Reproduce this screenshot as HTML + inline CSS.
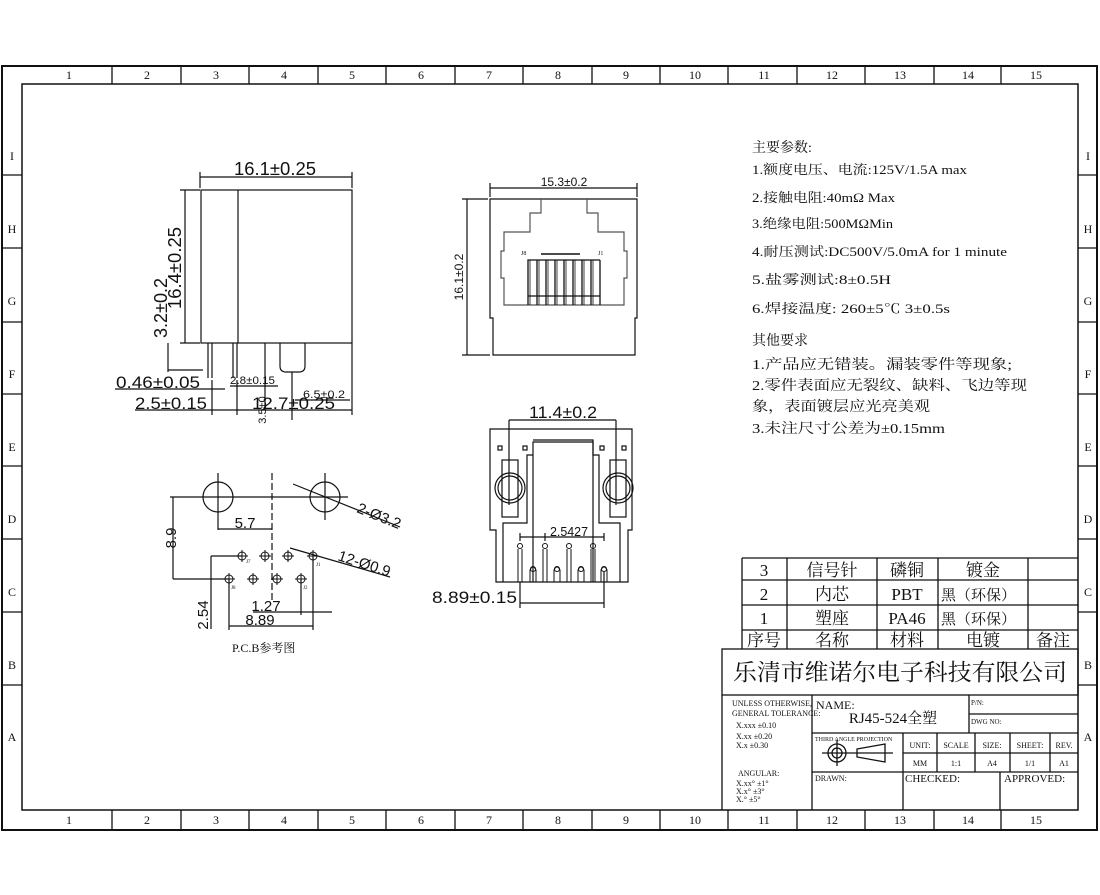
<!DOCTYPE html>
<html><head><meta charset="utf-8"><style>
html,body{margin:0;padding:0;background:#fff;}
svg{display:block;}
text{font-family:"Liberation Serif","Noto Serif CJK SC",serif;fill:#111;}
.s text{font-family:"Liberation Sans","Noto Sans CJK SC",sans-serif;}
</style></head><body>
<svg width="1100" height="895" viewBox="0 0 1100 895" xmlns="http://www.w3.org/2000/svg">
<g fill="none" stroke="#111" stroke-width="1">
<rect x="2" y="66" width="1095" height="764" stroke-width="2"/>
<rect x="22" y="84" width="1056" height="726" stroke-width="1.5"/>
<g stroke-width="1.3">
<path d="M112 66V84M181 66V84M249 66V84M318 66V84M386 66V84M455 66V84M523 66V84M592 66V84M660 66V84M728 66V84M797 66V84M865 66V84M934 66V84M1001 66V84"/>
<path d="M112 810V830M181 810V830M249 810V830M318 810V830M386 810V830M455 810V830M523 810V830M592 810V830M660 810V830M728 810V830M797 810V830M865 810V830M934 810V830M1001 810V830"/>
<path d="M2 175H22M2 248H22M2 322H22M2 394H22M2 466H22M2 539H22M2 612H22M2 685H22"/>
<path d="M1078 175H1097M1078 248H1097M1078 322H1097M1078 394H1097M1078 466H1097M1078 539H1097M1078 612H1097M1078 685H1097"/>
</g>
</g>
<g font-size="12" text-anchor="middle">
<text x="69" y="79">1</text><text x="147" y="79">2</text><text x="216" y="79">3</text><text x="284" y="79">4</text><text x="352" y="79">5</text><text x="421" y="79">6</text><text x="489" y="79">7</text><text x="558" y="79">8</text><text x="626" y="79">9</text><text x="695" y="79">10</text><text x="764" y="79">11</text><text x="832" y="79">12</text><text x="900" y="79">13</text><text x="968" y="79">14</text><text x="1036" y="79">15</text>
<text x="69" y="824">1</text><text x="147" y="824">2</text><text x="216" y="824">3</text><text x="284" y="824">4</text><text x="352" y="824">5</text><text x="421" y="824">6</text><text x="489" y="824">7</text><text x="558" y="824">8</text><text x="626" y="824">9</text><text x="695" y="824">10</text><text x="764" y="824">11</text><text x="832" y="824">12</text><text x="900" y="824">13</text><text x="968" y="824">14</text><text x="1036" y="824">15</text>
<text x="12" y="160">I</text><text x="12" y="233">H</text><text x="12" y="305">G</text><text x="12" y="378">F</text><text x="12" y="451">E</text><text x="12" y="523">D</text><text x="12" y="596">C</text><text x="12" y="669">B</text><text x="12" y="741">A</text>
<text x="1088" y="160">I</text><text x="1088" y="233">H</text><text x="1088" y="305">G</text><text x="1088" y="378">F</text><text x="1088" y="451">E</text><text x="1088" y="523">D</text><text x="1088" y="596">C</text><text x="1088" y="669">B</text><text x="1088" y="741">A</text>
</g>

<!-- side view -->
<g fill="none" stroke="#111" stroke-width="1.2">
<rect x="201" y="190" width="151" height="153"/>
<path d="M238 190V343"/>
<path d="M200 188V172M352 188V172M200 177H352"/>
<path d="M185 190V343M180 190H200M180 343H200"/>
<path d="M168 343V372M168 370H203"/>
<path d="M208 343V378M212 343V378M233 343V378M237 343V378"/>
<path d="M265 343V410M280 343V366Q280 372 286 372H299Q305 372 305 366V343"/>
<path d="M230 386H278M292 372V420M295 400H350"/>
<path d="M115 389H225M135 410H352M212 380V415M352 343V415M237 380V415"/>
</g>
<g class="s" fill="#111">
<text x="275" y="175" font-size="18" text-anchor="middle" textLength="82" lengthAdjust="spacingAndGlyphs">16.1±0.25</text>
<text transform="translate(181,268) rotate(-90)" font-size="18" text-anchor="middle" textLength="82" lengthAdjust="spacingAndGlyphs">16.4±0.25</text>
<text transform="translate(167,308) rotate(-90)" font-size="18" text-anchor="middle" textLength="60" lengthAdjust="spacingAndGlyphs">3.2±0.2</text>
<text x="116" y="388" font-size="17" textLength="84" lengthAdjust="spacingAndGlyphs">0.46±0.05</text>
<text x="135" y="409" font-size="17" textLength="72" lengthAdjust="spacingAndGlyphs">2.5±0.15</text>
<text x="252" y="409" font-size="17" textLength="83" lengthAdjust="spacingAndGlyphs">12.7±0.25</text>
<text x="230" y="384" font-size="11" textLength="45" lengthAdjust="spacingAndGlyphs">2.8±0.15</text>
<text x="303" y="398" font-size="11" textLength="42" lengthAdjust="spacingAndGlyphs">6.5±0.2</text>
<text transform="translate(266,410) rotate(-90)" font-size="11" text-anchor="middle">3.5±0</text>
</g>

<!-- front view -->
<g fill="none" stroke="#111" stroke-width="1.2">
<path d="M490 199H637V318H635V355H493V318H490Z"/>
<path d="M490 197V183M637 197V183M490 188H637"/>
<path d="M467 199V355M462 199H488M462 355H490"/>
<path d="M541 199V213H530V232H504V251H501V278H504V305H624V278H627V251H624V232H598V213H587V199" stroke="#555"/>
<path d="M541 254H580" stroke-width="1.5"/>
<path d="M528 305V260H537V305M537 305V260M546 305V260M555 305V260M564 305V260M573 305V260M582 305V260M591 305V260M600 305V260M528 260H600M528 296H600" stroke-width="1.3"/>
<path d="M530 260V305M539 260V305M548 260V305M557 260V305M566 260V305M575 260V305M584 260V305M593 260V305" stroke-width="0.8"/>
</g>
<g class="s" fill="#111">
<text x="564" y="186" font-size="12" text-anchor="middle">15.3±0.2</text>
<text transform="translate(463,277) rotate(-90)" font-size="12" text-anchor="middle">16.1±0.2</text>
</g>
<text x="521" y="255" font-size="6">J8</text><text x="598" y="255" font-size="6">J1</text>

<!-- bottom view -->
<g fill="none" stroke="#111" stroke-width="1.2">
<path d="M490 429H632V530H628V582H496V530H490Z"/>
<path d="M533 582V442H593V582"/>
<path d="M533 440H593V455H599V523H620V530M533 455H527V523H503V530"/>
<path d="M503 530V582M620 530V582"/>
<rect x="498" y="446" width="4" height="4"/><rect x="523" y="446" width="4" height="4"/><rect x="600" y="446" width="4" height="4"/><rect x="622" y="446" width="4" height="4"/>
<rect x="502" y="460" width="16" height="57"/><rect x="610" y="460" width="16" height="57"/>
<circle cx="510" cy="488" r="15"/><circle cx="510" cy="488" r="12"/>
<circle cx="618" cy="488" r="15"/><circle cx="618" cy="488" r="12"/>
<path d="M509 420V505M616 420V505M509 420H616"/>
<path d="M520 537H604M520 533V541M545 533V541M604 533V541"/>
<g stroke-width="1">
<circle cx="520" cy="546" r="2.5"/><circle cx="545" cy="546" r="2.5"/><circle cx="569" cy="546" r="2.5"/><circle cx="593" cy="546" r="2.5"/>
<circle cx="533" cy="569" r="2.5"/><circle cx="557" cy="569" r="2.5"/><circle cx="581" cy="569" r="2.5"/><circle cx="604" cy="569" r="2.5"/>
<path d="M518 549V582M522 549V582M543 549V582M547 549V582M567 549V582M571 549V582M591 549V582M595 549V582"/>
<path d="M530 582V570Q533 564 536 570V582M554 582V570Q557 564 560 570V582M578 582V570Q581 564 584 570V582M601 582V570Q604 564 607 570V582"/>
</g>
<path d="M520 582V608M604 572V608M520 603H604"/>
</g>
<g class="s" fill="#111">
<text x="563" y="418" font-size="17" text-anchor="middle" textLength="68" lengthAdjust="spacingAndGlyphs">11.4±0.2</text>
<text x="432" y="603" font-size="17" textLength="85" lengthAdjust="spacingAndGlyphs">8.89±0.15</text>
<text x="550" y="536" font-size="13" textLength="38" lengthAdjust="spacingAndGlyphs">2.5427</text>
</g>

<!-- PCB -->
<g fill="none" stroke="#111" stroke-width="1.2">
<circle cx="218" cy="497" r="15"/><circle cx="325" cy="497" r="15"/>
<path d="M170 497H348M218 473V530M325 473V520"/>
<path d="M272 473V600" stroke-dasharray="7,3"/>
<path d="M218 529H272"/>
<path d="M173 497V579M173 579H229"/>
<path d="M211 556V629M211 556H242"/>
<path d="M229 579V630M313 556V630M301 579V615M229 626H313M253 612H332"/>
<path d="M293 484L400 527M290 548L390 577"/>
<g stroke-width="1">
<circle cx="242" cy="556" r="4"/><circle cx="265" cy="556" r="4"/><circle cx="288" cy="556" r="4"/><circle cx="313" cy="556" r="4"/>
<circle cx="229" cy="579" r="4"/><circle cx="253" cy="579" r="4"/><circle cx="277" cy="579" r="4"/><circle cx="301" cy="579" r="4"/>
<path d="M236 556H248M242 550V562M259 556H271M265 550V562M282 556H294M288 550V562M307 556H319M313 550V562M223 579H235M229 573V585M247 579H259M253 573V585M271 579H283M277 573V585M295 579H307M301 573V585"/>
</g>
</g>
<g class="s" fill="#111">
<text x="245" y="528" font-size="15" text-anchor="middle">5.7</text>
<text transform="translate(176,538) rotate(-90)" font-size="15" text-anchor="middle">8.9</text>
<text transform="translate(208,615) rotate(-90)" font-size="15" text-anchor="middle">2.54</text>
<text x="266" y="611" font-size="15" text-anchor="middle">1.27</text>
<text x="260" y="625" font-size="15" text-anchor="middle">8.89</text>
<text transform="translate(356,512) rotate(22)" font-size="15">2-Ø3.2</text>
<text transform="translate(337,560) rotate(18)" font-size="15">12-Ø0.9</text>
</g>
<text x="246" y="563" font-size="5">J7</text><text x="316" y="566" font-size="5">J1</text><text x="231" y="589" font-size="5">J8</text><text x="303" y="589" font-size="5">J2</text>
<text x="232" y="652" font-size="12">P.C.B参考图</text>

<!-- notes -->
<g font-size="13" lengthAdjust="spacingAndGlyphs">
<text x="752" y="152" font-size="14">主要参数:</text>
<text x="752" y="174" textLength="215" lengthAdjust="spacingAndGlyphs">1.额度电压、电流:125V/1.5A max</text>
<text x="752" y="202" textLength="143" lengthAdjust="spacingAndGlyphs">2.接触电阻:40mΩ  Max</text>
<text x="752" y="228" textLength="141" lengthAdjust="spacingAndGlyphs">3.绝缘电阻:500MΩMin</text>
<text x="752" y="256" textLength="255" lengthAdjust="spacingAndGlyphs">4.耐压测试:DC500V/5.0mA for 1 minute</text>
<text x="752" y="284" textLength="139" lengthAdjust="spacingAndGlyphs">5.盐雾测试:8±0.5H</text>
<text x="752" y="313" textLength="198" lengthAdjust="spacingAndGlyphs">6.焊接温度: 260±5℃ 3±0.5s</text>
<text x="752" y="345" font-size="14">其他要求</text>
<text x="752" y="369" font-size="14" textLength="260" lengthAdjust="spacingAndGlyphs">1.产品应无错装。漏装零件等现象;</text>
<text x="752" y="390" font-size="14" textLength="275" lengthAdjust="spacingAndGlyphs">2.零件表面应无裂纹、缺料、飞边等现</text>
<text x="752" y="411" font-size="14" textLength="178" lengthAdjust="spacingAndGlyphs">象，表面镀层应光亮美观</text>
<text x="752" y="433" font-size="14" textLength="193" lengthAdjust="spacingAndGlyphs">3.未注尺寸公差为±0.15mm</text>
</g>

<!-- title block -->
<g fill="none" stroke="#111" stroke-width="1.3">
<path d="M742 558H1078M742 580H1078M742 605H1078M742 630H1078M742 558V649M787 558V649M877 558V649M938 558V649M1028 558V649"/>
<rect x="722" y="649" width="356" height="46"/>
<path d="M722 695V810M812 695V810M812 733H1078M969 695V733M969 714H1078"/>
<path d="M903 733V810M937 733V772M975 733V772M1010 733V772M1050 733V772M903 753H1078M812 772H1078M1000 772V810"/>
<circle cx="837" cy="753" r="9"/><circle cx="837" cy="753" r="5"/>
<path d="M822 753H893M837 740V766M857 749L885 744V762L857 757Z"/>
</g>
<g text-anchor="middle" font-size="17">
<text x="764" y="576">3</text><text x="832" y="576">信号针</text><text x="907" y="576">磷铜</text><text x="983" y="576">镀金</text>
<text x="764" y="600">2</text><text x="832" y="600">内芯</text><text x="907" y="600">PBT</text>
<text x="764" y="624">1</text><text x="832" y="624">塑座</text><text x="907" y="624">PA46</text>
<text x="764" y="646">序号</text><text x="832" y="646">名称</text><text x="907" y="646">材料</text><text x="983" y="646">电镀</text><text x="1053" y="646">备注</text>
</g>
<text x="941" y="600" font-size="15">黑（环保）</text>
<text x="941" y="624" font-size="15">黑（环保）</text>
<text x="900" y="680" font-size="23" text-anchor="middle" textLength="334" lengthAdjust="spacingAndGlyphs">乐清市维诺尔电子科技有限公司</text>
<g font-size="8">
<text x="732" y="706">UNLESS OTHERWISE,</text>
<text x="732" y="716">GENERAL TOLERANCE:</text>
<text x="736" y="728">X.xxx ±0.10</text>
<text x="736" y="739">X.xx  ±0.20</text>
<text x="736" y="748">X.x   ±0.30</text>
<text x="738" y="776">ANGULAR:</text>
<text x="736" y="786">X.xx°  ±1°</text>
<text x="736" y="794">X.x°   ±3°</text>
<text x="736" y="802">X.°    ±5°</text>
<text x="971" y="705" font-size="7">P/N:</text>
<text x="971" y="724" font-size="7">DWG NO:</text>
<text x="815" y="741" font-size="6">THIRD ANGLE PROJECTION</text>
<text x="920" y="748" text-anchor="middle">UNIT:</text>
<text x="956" y="748" text-anchor="middle">SCALE</text>
<text x="992" y="748" text-anchor="middle">SIZE:</text>
<text x="1030" y="748" text-anchor="middle">SHEET:</text>
<text x="1064" y="748" text-anchor="middle">REV.</text>
<text x="920" y="766" text-anchor="middle">MM</text>
<text x="956" y="766" text-anchor="middle">1:1</text>
<text x="992" y="766" text-anchor="middle">A4</text>
<text x="1030" y="766" text-anchor="middle">1/1</text>
<text x="1064" y="766" text-anchor="middle">A1</text>
<text x="815" y="781">DRAWN:</text>
</g>
<text x="816" y="709" font-size="12">NAME:</text>
<text x="893" y="723" font-size="15" text-anchor="middle">RJ45-524全塑</text>
<text x="905" y="782" font-size="11">CHECKED:</text>
<text x="1004" y="782" font-size="11">APPROVED:</text>
</svg>
</body></html>
